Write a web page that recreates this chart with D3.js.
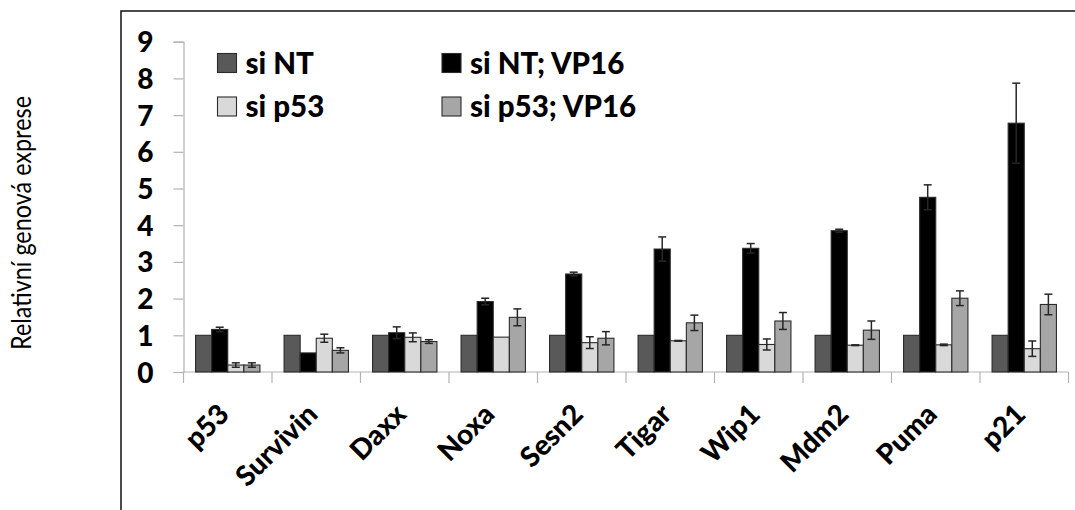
<!DOCTYPE html>
<html>
<head>
<meta charset="utf-8">
<script src="https://cdn.jsdelivr.net/npm/d3@7"></script>
<style>
  html, body { margin: 0; padding: 0; background: #fff; }
  svg { display: block; }
  text { font-family: Lato, "Open Sans", sans-serif; }
</style>
</head>
<body>
<svg id="chart" width="1075" height="510"></svg>
<script>
// Gene names along the x axis
const categories = ["p53", "Survivin", "Daxx", "Noxa", "Sesn2", "Tigar", "Wip1", "Mdm2", "Puma", "p21"];

// Series labels (legend order: left column, then right column)
const seriesNames = ["si NT", "si NT; VP16", "si p53", "si p53; VP16"];

// Relative expression per series, one value per gene
const siNT          = [1, 1, 1, 1, 1, 1, 1, 1, 1, 1];
const siNTErr       = [0, 0, 0, 0, 0, 0, 0, 0, 0, 0];
const siNTVP16      = [1.16, 0.52, 1.07, 1.92, 2.67, 3.35, 3.37, 3.85, 4.76, 6.78];
const siNTVP16Err   = [0.06, 0, 0.16, 0.09, 0.05, 0.33, 0.13, 0.04, 0.34, 1.09];
const sip53         = [0.19, 0.92, 0.945, 0.95, 0.80, 0.85, 0.75, 0.73, 0.74, 0.635];
const sip53Err      = [0.06, 0.11, 0.12, 0, 0.16, 0.01, 0.15, 0.01, 0.02, 0.21];
const sip53VP16     = [0.19, 0.59, 0.83, 1.49, 0.92, 1.34, 1.39, 1.14, 2.01, 1.84];
const sip53VP16Err  = [0.06, 0.07, 0.05, 0.23, 0.18, 0.21, 0.23, 0.25, 0.20, 0.28];

// Y axis ticks
const yTicks = [0, 1, 2, 3, 4, 5, 6, 7, 8, 9];
const yTitle = "Relativní genová exprese";

// Bars inside each group, in drawing order
const series = [
  { name: seriesNames[0], values: siNT,      errors: siNTErr,      fill: "#595959" },
  { name: seriesNames[1], values: siNTVP16,  errors: siNTVP16Err,  fill: "#000000" },
  { name: seriesNames[2], values: sip53,     errors: sip53Err,     fill: "#d9d9d9" },
  { name: seriesNames[3], values: sip53VP16, errors: sip53VP16Err, fill: "#a6a6a6" }
];

const svg = d3.select("#chart");

// Outer chart frame (runs past the right and bottom edges)
svg.append("rect")
  .attr("x", 121).attr("y", 11)
  .attr("width", 1000).attr("height", 560)
  .attr("fill", "none")
  .attr("stroke", "#1f1f1f")
  .attr("stroke-width", 1.6);

const plotLeft = 183.5, plotRight = 1068.5, plotTop = 41.7, plotBottom = 372;

const y = d3.scaleLinear().domain([0, 9]).range([plotBottom, plotTop]);
const x = d3.scaleBand().domain(categories).range([plotLeft, plotRight]).padding(0);

// Excel-style clustered bars: gap width 150% of a bar
const gapRatio = 1.5;
const barW = x.bandwidth() / (series.length + gapRatio);
const groupOffset = barW * gapRatio / 2;

// Y axis
const yAxis = d3.axisLeft(y).tickValues(yTicks).tickSize(10).tickPadding(20).tickFormat(d3.format("d"));
const gy = svg.append("g").attr("transform", `translate(${plotLeft},0)`).call(yAxis);
gy.select(".domain").attr("stroke", "#b3b3b3").attr("stroke-width", 1.2);
gy.selectAll(".tick line").attr("stroke", "#b3b3b3").attr("stroke-width", 1.2);
gy.selectAll(".tick text")
  .attr("fill", "#000")
  .style("font-size", "28px")
  .style("font-weight", "900")
  .attr("dy", "0.36em");

// X axis: ticks on category boundaries
const xAxisG = svg.append("g").attr("transform", `translate(0,${plotBottom})`);
xAxisG.append("line")
  .attr("x1", plotLeft).attr("x2", plotRight)
  .attr("stroke", "#b3b3b3").attr("stroke-width", 1.2);
const boundaries = categories.map(c => x(c)).concat([plotRight]);
xAxisG.selectAll("line.tick").data(boundaries).join("line")
  .attr("class", "tick")
  .attr("x1", d => d).attr("x2", d => d)
  .attr("y1", 0).attr("y2", 11)
  .attr("stroke", "#b3b3b3").attr("stroke-width", 1.2);

// Rotated category labels
svg.append("g").selectAll("text").data(categories).join("text")
  .attr("transform", d => `translate(${x(d) + x.bandwidth() / 2 + 3},${plotBottom + 44}) rotate(-45)`)
  .attr("text-anchor", "end")
  .style("font-size", "28px")
  .style("font-weight", "900")
  .attr("fill", "#000")
  .text(d => d);

// Bars
const groups = svg.append("g").selectAll("g").data(series).join("g");
groups.each(function (s, si) {
  const g = d3.select(this);
  g.selectAll("rect").data(categories).join("rect")
    .attr("x", c => x(c) + groupOffset + si * barW)
    .attr("y", (c, i) => y(s.values[i]))
    .attr("width", barW)
    .attr("height", (c, i) => y(0) - y(s.values[i]))
    .attr("fill", s.fill)
    .attr("stroke", "#2b2b2b")
    .attr("stroke-width", 1.1);
});

// Error bars
const capHalf = 4;
series.forEach((s, si) => {
  const eg = svg.append("g").attr("stroke", "#262626").attr("stroke-width", 1.5);
  categories.forEach((c, i) => {
    const e = s.errors[i];
    if (!e) return;
    const cx = x(c) + groupOffset + si * barW + barW / 2;
    const yHi = y(s.values[i] + e), yLo = y(Math.max(0, s.values[i] - e));
    eg.append("line").attr("x1", cx).attr("x2", cx).attr("y1", yHi).attr("y2", yLo);
    eg.append("line").attr("x1", cx - capHalf).attr("x2", cx + capHalf).attr("y1", yHi).attr("y2", yHi);
    eg.append("line").attr("x1", cx - capHalf).attr("x2", cx + capHalf).attr("y1", yLo).attr("y2", yLo);
  });
});

// Legend, two columns
const legendPos = [
  { x: 217.5, y: 53.5 },
  { x: 442, y: 53.5 },
  { x: 217.5, y: 97 },
  { x: 442, y: 97 }
];
const legend = svg.append("g").selectAll("g").data(series).join("g")
  .attr("transform", (d, i) => `translate(${legendPos[i].x},${legendPos[i].y})`);
legend.append("rect")
  .attr("width", 19).attr("height", 19)
  .attr("fill", d => d.fill)
  .attr("stroke", "#2b2b2b").attr("stroke-width", 1.1);
legend.append("text")
  .attr("x", 28).attr("y", 9.5).attr("dy", "0.36em")
  .style("font-size", "29.5px")
  .style("font-weight", "900")
  .attr("fill", "#000")
  .text(d => d.name);

// Y axis title, condensed to the width of the original narrow face
svg.append("text")
  .attr("transform", "translate(31,223) rotate(-90)")
  .attr("text-anchor", "middle")
  .attr("textLength", 254)
  .attr("lengthAdjust", "spacingAndGlyphs")
  .style("font-size", "27px")
  .attr("fill", "#000")
  .text(yTitle);
</script>
</body>
</html>
